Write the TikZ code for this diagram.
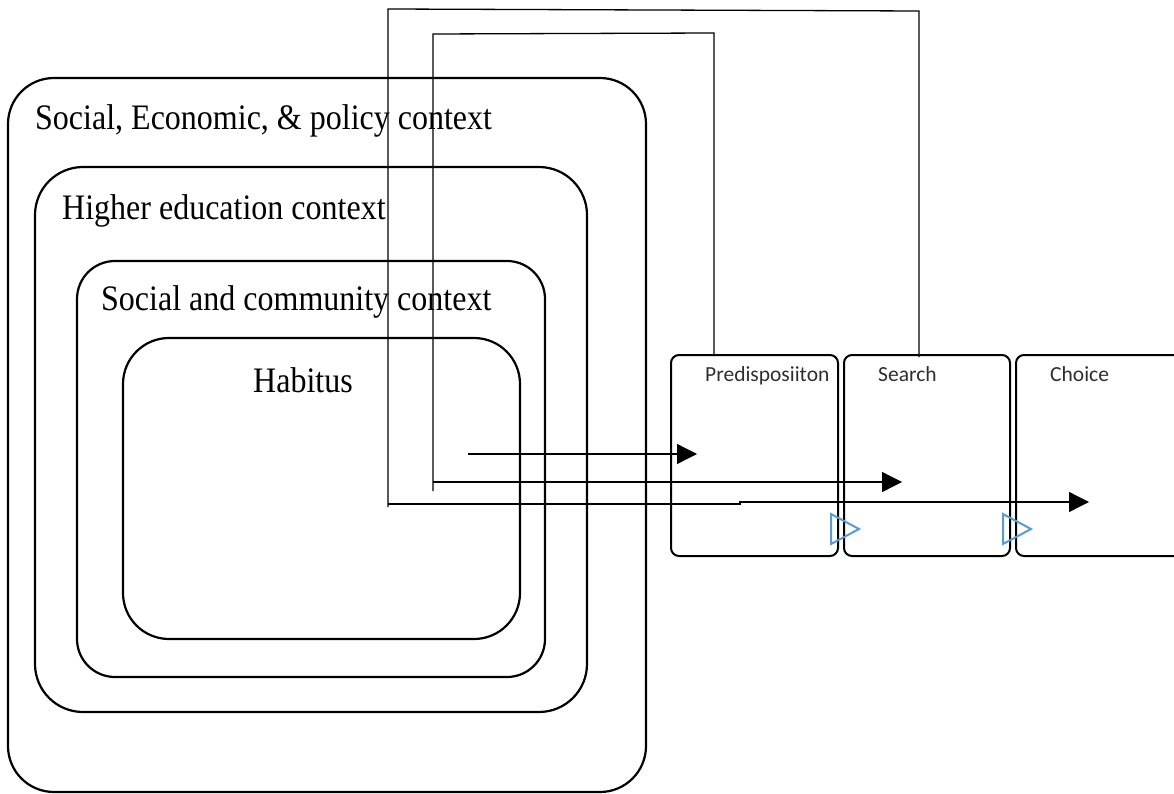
\documentclass[tikz,border=0pt]{standalone}
\usepackage{fontspec}
\setmainfont{Liberation Serif}
\newfontfamily\stagefont{Carlito}
\usetikzlibrary{arrows.meta}
\definecolor{flowblue}{HTML}{5B9BD5}
\newcommand{\tallctx}[1]{\scalebox{1}[1.12]{#1}}
\begin{document}
\begin{tikzpicture}[x=1pt,y=-1pt,
  ctx/.style={draw, line width=2.2pt, inner sep=0pt, outer sep=0pt, anchor=north west},
  stagebox/.style={draw, line width=2pt, rounded corners=8pt, inner sep=0pt, outer sep=0pt, anchor=north west},
  ctxlabel/.style={anchor=base west, inner sep=0pt, font=\fontsize{32}{36}\selectfont},
  stagelabel/.style={anchor=base west, inner sep=0pt, font=\stagefont\fontsize{21.5}{24}\selectfont, text=black!82},
  conn/.style={line width=1.3pt},
  arr/.style={conn, -{Triangle[length=20pt,width=20pt]}},
  flowtri/.style={draw=flowblue, line width=2pt, line join=miter}]
\useasboundingbox (0,0) rectangle (1174,794);
% nested contexts
\node[ctx, rounded corners=46pt, minimum width=638pt, minimum height=714pt] (sep) at (8,78) {};
\node[ctx, rounded corners=48pt, minimum width=552pt, minimum height=545pt] (hec) at (35,167) {};
\node[ctx, rounded corners=38pt, minimum width=468pt, minimum height=416pt] (scc) at (77,261) {};
\node[ctx, rounded corners=46pt, minimum width=397pt, minimum height=301pt] (hab) at (123,338) {};
\node[ctxlabel] (seplabel) at (35,130) {\tallctx{Social, Economic, \& policy context}};
\node[ctxlabel] (heclabel) at (62,220) {\tallctx{Higher education context}};
\node[ctxlabel] (scclabel) at (101,310) {\tallctx{Social and community context}};
\node[ctxlabel] (hablabel) at (253,392) {\tallctx{Habitus}};
% stages
\node[stagebox, minimum width=167pt, minimum height=201pt] (pred) at (671,355) {};
\node[stagebox, minimum width=166pt, minimum height=201pt] (search) at (844,355) {};
\node[stagebox, minimum width=185pt, minimum height=201pt] (choice) at (1016,355) {};
\node[stagelabel] (predlabel) at (705,381) {Predisposiiton};
\node[stagelabel] (searchlabel) at (878,381) {Search};
\node[stagelabel] (choicelabel) at (1050,381) {Choice};
% blue flow triangles
\coordinate (t1a) at (831,514); \coordinate (t1b) at (831,544); \coordinate (t1c) at (859,529);
\coordinate (t2a) at (1003,514); \coordinate (t2b) at (1003,544); \coordinate (t2c) at (1031,529);
\draw[flowtri] (t1a) -- (t1c) -- (t1b) -- cycle;
\draw[flowtri] (t2a) -- (t2c) -- (t2b) -- cycle;
% connectors
\coordinate (aS) at (919,357);
\coordinate (aTR) at (919,11);
\coordinate (aTL) at (388,9);
\coordinate (aB) at (388,507);
\coordinate (aH) at (388,504);
\coordinate (aK1) at (740,504);
\coordinate (aK2) at (740,502);
\coordinate (aE) at (1089,502);
\draw[conn] (aS) -- (aTR) -- (aTL) -- (aB);
\draw[arr] (aH) -- (aK1) -- (aK2) -- (aE);
\coordinate (bS) at (714,356);
\coordinate (bTR) at (714,33);
\coordinate (bTL) at (433,34);
\coordinate (bB) at (433,491);
\coordinate (bH) at (433,482);
\coordinate (bE) at (902,482);
\draw[conn] (bS) -- (bTR) -- (bTL) -- (bB);
\draw[arr] (bH) -- (bE);
\coordinate (cS) at (468,454);
\coordinate (cE) at (697,454);
\draw[arr] (cS) -- (cE);
\end{tikzpicture}
\end{document}
